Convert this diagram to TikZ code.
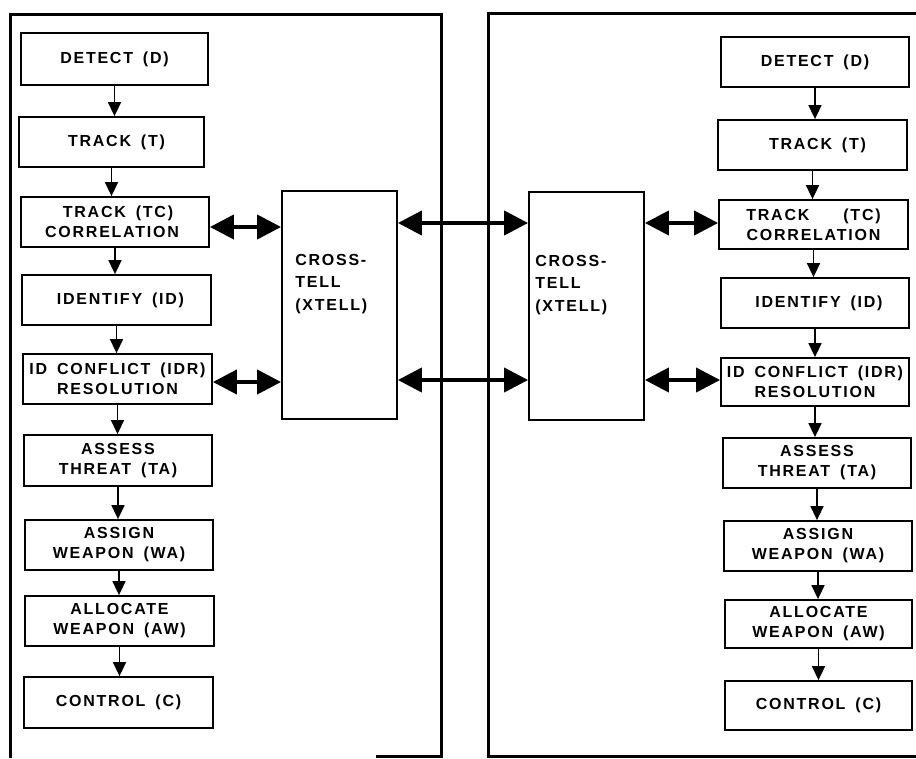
\documentclass[tikz,border=0pt]{standalone}
\usepackage{fontspec}
\setmainfont{Liberation Sans Bold}[LetterSpace=11, WordSpace=1.6]
\usetikzlibrary{arrows.meta,calc}
\tikzset{
  blk/.style={draw, line width=1.8pt, rectangle, inner sep=0pt, align=center,
    font=\fontsize{16}{20}\selectfont},
  xbox/.style={draw, line width=1.8pt, rectangle, inner sep=0pt},
  xlbl/.style={anchor=north west, align=left, inner sep=0pt,
    font=\fontsize{16}{22.5}\selectfont},
  frame/.style={line width=3pt},
  arr/.style={line width=1.6pt, -{Triangle[width=13pt,length=14pt]}},
  dbl/.style={line width=4pt, {Triangle[width=24pt,length=24pt]}-{Triangle[width=24pt,length=24pt]}}
}
\newcommand{\blkat}[6]{\node[blk, minimum width={(#4-#2)*1pt}, minimum height={(#5-#3)*1pt}] (#1) at ({(#2+#4)/2},{(#3+#5)/2}) {#6};}
\begin{document}
\begin{tikzpicture}[x=1pt,y=-1pt]
\useasboundingbox (0,0) rectangle (916,758);
% frames
\draw[frame] (10,758) -- (10,14) -- (441,14) -- (441,756) -- (376,756);
\draw[frame] (916,756) -- (488,756) -- (488,13) -- (916,13);
% left column
\blkat{lD}{21}{33}{208}{85}{DETECT (D)}
\blkat{lT}{19}{117}{204}{167}{\hspace*{10pt}TRACK (T)}
\blkat{lTC}{21}{197}{209}{247}{\hspace*{6pt}TRACK (TC)\\CORRELATION\hspace*{6pt}}
\blkat{lID}{22}{275}{211}{325}{\hspace*{8pt}IDENTIFY (ID)}
\blkat{lIDR}{23}{354}{212}{404}{ID CONFLICT (IDR)\\RESOLUTION}
\blkat{lTA}{24}{435}{212}{486}{ASSESS\\THREAT (TA)}
\blkat{lWA}{25}{520}{213}{570}{ASSIGN\\WEAPON (WA)}
\blkat{lAW}{25}{596}{214}{646}{ALLOCATE\\WEAPON (AW)}
\blkat{lC}{24}{677}{213}{728}{CONTROL (C)}
% right column
\blkat{rD}{721}{37}{909}{87}{DETECT (D)}
\blkat{rT}{718}{120}{907}{170}{\hspace*{10pt}TRACK (T)}
\blkat{rTC}{719}{200}{908}{249}{TRACK\hspace{34pt}(TC)\\CORRELATION}
\blkat{rID}{721}{278}{909}{328}{\hspace*{8pt}IDENTIFY (ID)}
\blkat{rIDR}{721}{358}{909}{406}{ID CONFLICT (IDR)\\RESOLUTION}
\blkat{rTA}{723}{438}{911}{488}{ASSESS\\THREAT (TA)}
\blkat{rWA}{724}{521}{912}{571}{ASSIGN\\WEAPON (WA)}
\blkat{rAW}{725}{600}{912}{648}{ALLOCATE\\WEAPON (AW)}
\blkat{rC}{725}{681}{912}{730}{CONTROL (C)}
% cross-tell boxes
\node[xbox, minimum width=115pt, minimum height=228pt,
  label={[xlbl, xshift=14pt, yshift=-64pt]north west:CROSS-\\TELL\\(XTELL)}] (lX) at (339.5,305) {};
\node[xbox, minimum width=115pt, minimum height=228pt,
  label={[xlbl, xshift=7pt, yshift=-64pt]north west:CROSS-\\TELL\\(XTELL)}] (rX) at (586.5,306) {};
% column arrows
\foreach \a/\b in {lD/lT,lT/lTC,lTC/lID,lID/lIDR,lIDR/lTA,lTA/lWA,lWA/lAW,lAW/lC,
                   rD/rT,rT/rTC,rTC/rID,rID/rIDR,rIDR/rTA,rTA/rWA,rWA/rAW,rAW/rC}
  \draw[arr] (\a.south) -- (\a.south |- \b.north);
% cross-tell arrows
\draw[dbl] (lTC.east |- 0,227) -- (lX.west |- 0,227);
\draw[dbl] (lIDR.east |- 0,382) -- (lX.west |- 0,382);
\draw[dbl] (lX.east |- 0,223) -- (rX.west |- 0,223);
\draw[dbl] (lX.east |- 0,380) -- (rX.west |- 0,380);
\draw[dbl] (rX.east |- 0,223) -- (rTC.west |- 0,223);
\draw[dbl] (rX.east |- 0,380) -- (rIDR.west |- 0,380);
\end{tikzpicture}
\end{document}
